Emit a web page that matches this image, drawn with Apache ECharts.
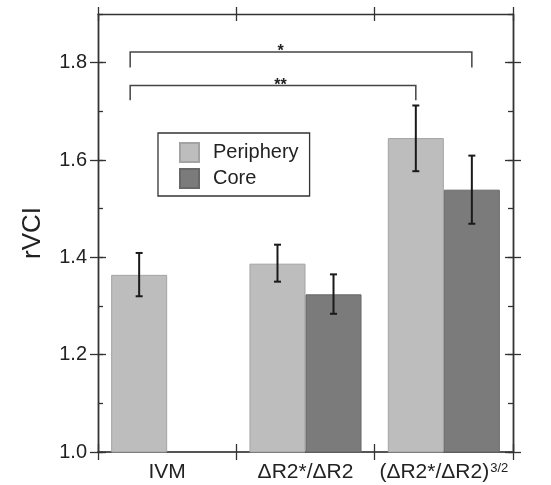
<!DOCTYPE html>
<html>
<head>
<meta charset="utf-8">
<script src="https://cdn.jsdelivr.net/npm/echarts@6/dist/echarts.min.js"></script>
<style>
html,body{margin:0;padding:0;background:#fff;}
#chart{width:551px;height:485px;}
</style>
</head>
<body>
<div id="chart"></div>
<script>
// data
var categories = ['IVM', 'ΔR2*/ΔR2', '(ΔR2*/ΔR2)^3/2'];
var seriesNames = ['Periphery', 'Core'];
var peripheryMean = [1.364, 1.387, 1.645];
var peripheryLow  = [1.320, 1.350, 1.577];
var peripheryHigh = [1.409, 1.426, 1.712];
var coreMean = [null, 1.324, 1.539];
var coreLow  = [null, 1.284, 1.469];
var coreHigh = [null, 1.365, 1.609];
var yMajorTicks = [1.0, 1.2, 1.4, 1.6, 1.8];
// [fromCategory, fromBar, toCategory, toBar, lineValue, legEndValue]
var sigBrackets = [
  [0, 0, 2, 1, 1.822, 1.790],
  [0, 0, 2, 0, 1.753, 1.723]
];
var sigLabels = ['*', '**'];

var FONT = 'Liberation Sans, Arial, sans-serif';
var AXIS_COL = '#333';
var HALF = 0.2025; // half of bar width as fraction of band

var chart = echarts.init(document.getElementById('chart'));

function yAxisDef(pos, extra) {
  var a = {
    type: 'value', position: pos, min: 1.0, max: 1.9,
    axisLine: {show: true, lineStyle: {color: AXIS_COL, width: 1.3}},
    axisLabel: {show: false},
    splitLine: {show: false}
  };
  for (var k in extra) a[k] = extra[k];
  return a;
}
function xAxisDef(pos, extra) {
  var a = {
    type: 'category', position: pos, data: categories, boundaryGap: true,
    axisLine: {show: true, lineStyle: {color: AXIS_COL, width: 1.3}},
    axisLabel: {show: false},
    splitLine: {show: false}
  };
  for (var k in extra) a[k] = extra[k];
  return a;
}

var tickStyle = {color: AXIS_COL, width: 1.3};

var yAxes = [];
['left', 'right'].forEach(function (p) {
  yAxes.push(yAxisDef(p, {
    axisTick: {show: true, inside: false, length: 8, customValues: yMajorTicks, lineStyle: tickStyle},
    axisLabel: p === 'left' ? {
      show: true, customValues: yMajorTicks, margin: 11, fontSize: 20, color: '#222', fontFamily: FONT,
      formatter: function (v) { return v.toFixed(1); }
    } : {show: false},
    name: p === 'left' ? 'rVCI' : '',
    nameLocation: 'middle', nameGap: 52,
    nameTextStyle: {fontSize: 26, color: '#222', fontFamily: FONT}
  }));
  yAxes.push(yAxisDef(p, {
    axisTick: {show: true, inside: true, length: 8, customValues: yMajorTicks, lineStyle: tickStyle}
  }));
  yAxes.push(yAxisDef(p, {
    interval: 0.1,
    axisTick: {show: true, inside: true, length: 5, lineStyle: tickStyle}
  }));
});

var xAxes = [
  xAxisDef('bottom', {
    axisLine: {show: true, lineStyle: {color: '#555', width: 2}},
    axisTick: {show: true, inside: false, length: 8, alignWithLabel: false, lineStyle: tickStyle},
    axisLabel: {
      show: true, interval: 0, margin: 10, fontSize: 21, color: '#222', fontFamily: FONT,
      formatter: function (v) {
        var parts = v.split('^');
        return parts.length > 1 ? '{b|' + parts[0] + '}{s|' + parts[1] + '}' : v;
      },
      rich: {
        b: {fontSize: 21, color: '#222', fontFamily: FONT},
        s: {fontSize: 13, color: '#222', fontFamily: FONT, verticalAlign: 'top', padding: [0, 0, 8, 1]}
      }
    }
  }),
  xAxisDef('bottom', {
    axisLine: {show: false},
    axisTick: {show: true, inside: true, length: 8, alignWithLabel: false, lineStyle: tickStyle}
  }),
  xAxisDef('top', {
    axisTick: {show: true, inside: false, length: 7, alignWithLabel: false, lineStyle: tickStyle}
  }),
  xAxisDef('top', {
    axisLine: {show: false},
    axisTick: {show: true, inside: true, length: 7, alignWithLabel: false, lineStyle: tickStyle}
  })
];

function errorSeries(name, low, high, side) {
  var d = [];
  for (var i = 0; i < low.length; i++) {
    if (low[i] != null) d.push([i, low[i], high[i]]);
  }
  return {
    type: 'custom', name: name, z: 5, silent: true,
    encode: {x: 0, y: [1, 2]},
    data: d,
    renderItem: function (params, api) {
      var band = api.size([1, 0])[0];
      var x = api.coord([api.value(0), api.value(1)])[0] + side * band * HALF;
      var yLo = api.coord([api.value(0), api.value(1)])[1];
      var yHi = api.coord([api.value(0), api.value(2)])[1];
      var cap = 3.5;
      var st = {stroke: '#1a1a1a', lineWidth: 2};
      return {type: 'group', children: [
        {type: 'line', shape: {x1: x, y1: yLo, x2: x, y2: yHi}, style: st},
        {type: 'line', shape: {x1: x - cap, y1: yLo, x2: x + cap, y2: yLo}, style: st},
        {type: 'line', shape: {x1: x - cap, y1: yHi, x2: x + cap, y2: yHi}, style: st}
      ]};
    }
  };
}

var bracketSeries = {
  type: 'custom', name: 'sig', z: 6, silent: true,
  encode: {x: [0, 2], y: [4, 5]},
  data: sigBrackets,
  renderItem: function (params, api) {
    var b = sigBrackets[params.dataIndex];
    var band = api.size([1, 0])[0];
    var off = band * HALF;
    var x1 = api.coord([b[0], b[4]])[0] + (b[1] === 0 ? -off : off) - band * 0.065;
    var x2 = api.coord([b[2], b[4]])[0] + (b[3] === 0 ? -off : off);
    var y = api.coord([0, b[4]])[1];
    var yl = api.coord([0, b[5]])[1];
    var xt = api.coord([1, b[4]])[0] - band * 0.18;
    var st = {stroke: '#444', lineWidth: 1.5, fill: null};
    return {type: 'group', children: [
      {type: 'polyline', shape: {points: [[x1, yl], [x1, y], [x2, y], [x2, yl]]}, style: st},
      {type: 'text', style: {text: sigLabels[params.dataIndex], x: xt, y: y, align: 'center',
        verticalAlign: 'middle', font: 'bold 16px ' + FONT, fill: '#222'}}
    ]};
  }
};

var option = {
  backgroundColor: '#fff',
  animation: false,
  grid: {left: 98, right: 38, top: 14, bottom: 33},
  legend: {
    data: seriesNames,
    orient: 'vertical', left: 158, top: 133,
    itemWidth: 19, itemHeight: 19, itemGap: 5,
    icon: 'rect',
    padding: [9, 11, 7, 21],
    borderColor: '#333', borderWidth: 1.3,
    textStyle: {fontSize: 20, color: '#222', fontFamily: FONT, lineHeight: 19, padding: [0, 0, 0, 9]}
  },
  xAxis: xAxes,
  yAxis: yAxes,
  series: [
    {
      type: 'bar', name: seriesNames[0], data: peripheryMean,
      barWidth: '40.5%', barGap: '0%',
      itemStyle: {color: '#bdbdbd', borderColor: '#a3a3a3', borderWidth: 1}
    },
    {
      type: 'bar', name: seriesNames[1], data: coreMean,
      barWidth: '40.5%', barGap: '0%',
      itemStyle: {color: '#7b7b7b', borderColor: '#686868', borderWidth: 1}
    },
    errorSeries('PeripheryErr', peripheryLow, peripheryHigh, -1),
    errorSeries('CoreErr', coreLow, coreHigh, 1),
    bracketSeries
  ]
};

chart.setOption(option);
</script>
</body>
</html>
